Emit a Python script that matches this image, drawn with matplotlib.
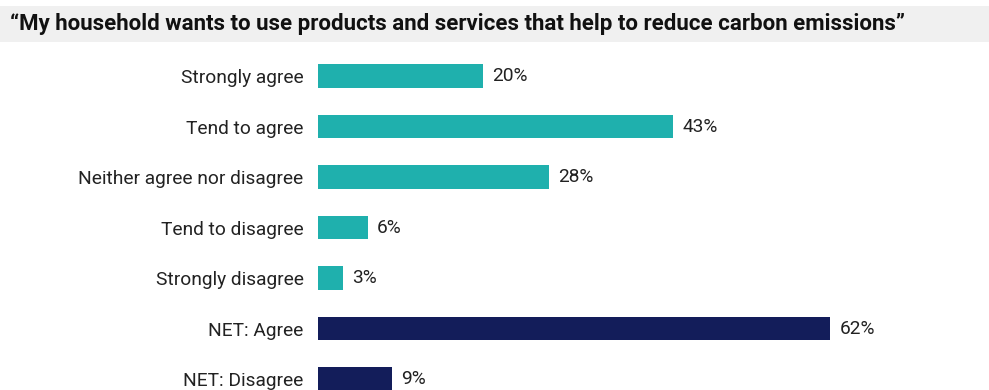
import matplotlib.pyplot as plt
from matplotlib.patches import Rectangle

# survey responses
categories = ["Strongly agree", "Tend to agree", "Neither agree nor disagree",
              "Tend to disagree", "Strongly disagree", "NET: Agree", "NET: Disagree"]
values = [20, 43, 28, 6, 3, 62, 9]
is_net = [False, False, False, False, False, True, True]

title = "\u201cMy household wants to use products and services that help to reduce carbon emissions\u201d"

teal = "#1fb0ad"
navy = "#131d5a"
text_color = "#222222"

W, H = 989, 390
fig = plt.figure(figsize=(W / 100, H / 100), dpi=100)

# grey title band across the top
fig.patches.append(Rectangle((0, 1 - 42 / H), 1, 36 / H, transform=fig.transFigure,
                             facecolor="#f0f0f0", edgecolor="none", zorder=0))
fig.text(10 / W, 1 - 24 / H, title, fontsize=16, fontweight="bold",
         family="Roboto", color="#111111", va="center", ha="left")

ax = fig.add_axes([318 / W, 0, 661 / W, 340 / H])
ypos = list(range(len(categories)))
colors = [navy if n else teal for n in is_net]
ax.barh(ypos, values, height=0.46, color=colors)

for y, v in zip(ypos, values):
    ax.annotate(f"{v}%", (v, y), xytext=(6.5, 0), textcoords="offset points",
                va="center", ha="left", fontsize=13.8, family="Roboto",
                color=text_color)

ax.set_xlim(0, 80)
ax.set_ylim(6 + 11 / 50.5, -26 / 50.5)
ax.set_yticks(ypos)
ax.set_yticklabels(categories, fontsize=13.8, family="Roboto", color=text_color)
ax.tick_params(axis="y", length=0, pad=10.5)
ax.set_xticks([])
for s in ax.spines.values():
    s.set_visible(False)

fig.savefig("out.png", dpi=100)
